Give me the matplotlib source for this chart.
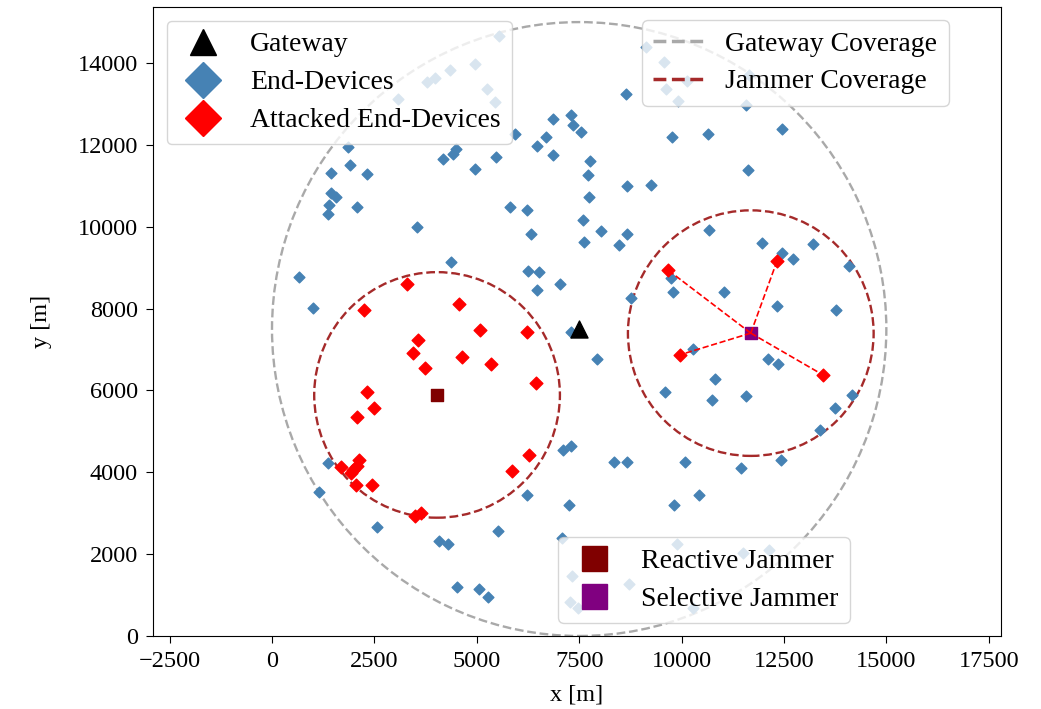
import matplotlib.pyplot as plt
from matplotlib.lines import Line2D
from matplotlib.patches import Circle

plt.rcParams["font.family"] = ["Liberation Serif", "DejaVu Serif"]

# network layout [m]
gateway = (7500, 7500)
gateway_range = 7500
jammer_range = 3000
reactive_jammer = (4030, 5890)
selective_jammer = (11690, 7400)

end_devices_x = [
    5540, 4960, 4350, 3980, 3780, 5250, 5440, 3080, 5930, 6690,
    9130, 9570, 11650, 10130, 9620, 9910, 11570,
    6860, 7300, 7350, 7540, 6470, 6860, 7760, 7710, 7740, 7590, 7620, 8030,
    1860, 1900, 2320, 1440, 1440, 1560, 1390, 1370, 2080, 3540,
    4170, 4420, 4490, 4960, 5470, 5810, 6230, 6320, 4370, 6250, 6520, 6470,
    7030, 660, 1000, 8640, 9770, 10640, 12450, 11620, 8670, 9250, 8670, 8470,
    10670, 11960, 12450, 12720, 13210, 14090, 9740, 9790, 11040, 8760,
    12330, 13770, 7930, 1370, 1150, 7100, 7300, 6230, 7250, 2560, 4080,
    4300, 5520, 7080, 4520, 5050, 5270, 7320, 7280, 7470, 8720, 9890,
    11500, 12130, 10280, 10280, 12110, 12350, 10820, 9590, 10740, 11570,
    14160, 13750, 13380, 8350, 8670, 10080, 11450, 12430, 10420, 9810, 7300,
]
end_devices_y = [
    14660, 13980, 13830, 13630, 13540, 13360, 13050, 13120, 12260, 12190,
    14390, 14020, 13710, 13560, 13360, 13070, 12970,
    12630, 12730, 12480, 12310, 11970, 11750, 11610, 11260, 10730, 10160, 9630, 9900,
    11950, 11510, 11290, 11310, 10820, 10730, 10530, 10310, 10480, 9990,
    11650, 11780, 11900, 11410, 11700, 10480, 10410, 9820, 9140, 8920, 8890, 8450,
    8600, 8770, 8010, 13240, 12190, 12270, 12390, 11390, 10990, 11020, 9820, 9550,
    9920, 9600, 9360, 9210, 9580, 9040, 8750, 8400, 8400, 8260,
    8060, 7960, 6770, 4230, 3520, 4540, 4640, 3440, 3200, 2660, 2320,
    2250, 2570, 2390, 1200, 1150, 950, 1470, 830, 680, 1270, 2250,
    2030, 2100, 680, 7010, 6770, 6650, 6280, 5960, 5770, 5860,
    5890, 5570, 5030, 4250, 4250, 4250, 4100, 4300, 3440, 3200, 7430,
]

# devices inside the reactive jammer's range
reactive_hits_x = [
    3300, 2250, 4570, 5080, 6230, 3560, 3440, 3740, 4640, 5350, 6450, 2320,
    2490, 2080, 6270, 5860, 1690, 2120, 2080, 1980, 1930, 2050, 2440, 3490, 3640,
]
reactive_hits_y = [
    8600, 7960, 8110, 7480, 7430, 7230, 6910, 6550, 6820, 6650, 6180, 5960,
    5570, 5350, 4420, 4030, 4130, 4300, 4150, 4060, 3980, 3690, 3690, 2930, 3010,
]

# devices picked out by the selective jammer
selective_hits_x = [9670, 12330, 9960, 13450]
selective_hits_y = [8940, 9160, 6870, 6380]

fig = plt.figure(figsize=(10.41, 7.09), dpi=100)
ax = fig.add_axes([0.147, 0.103, 0.8146, 0.8872])

ax.add_patch(Circle(gateway, gateway_range, fill=False, ls="--", lw=1.7, color="darkgray"))
for jam in (reactive_jammer, selective_jammer):
    ax.add_patch(Circle(jam, jammer_range, fill=False, ls="--", lw=1.7, color="brown"))

ax.scatter(end_devices_x, end_devices_y, marker="D", s=30, color="steelblue")
ax.scatter(reactive_hits_x, reactive_hits_y, marker="D", s=42, color="red")
ax.scatter(selective_hits_x, selective_hits_y, marker="D", s=42, color="red")

ax.scatter(*reactive_jammer, marker="s", s=70, color="maroon")
ax.scatter(*selective_jammer, marker="s", s=70, color="purple")
for hx, hy in zip(selective_hits_x, selective_hits_y):
    ax.plot([selective_jammer[0], hx], [selective_jammer[1], hy], ls="--", lw=1.2, color="red")

ax.scatter(*gateway, marker="^", s=150, color="black", zorder=3)

ax.set_xlim(-2905, 17800)
ax.set_ylim(0, 15370)
ax.set_xticks(range(-2500, 17501, 2500))
ax.set_yticks(range(0, 14001, 2000))
ax.tick_params(labelsize=17.5, length=5, pad=6)
ax.set_xlabel("x [m]", fontsize=17.5, labelpad=9)
ax.set_ylabel("y [m]", fontsize=17.5, labelpad=18)

leg_kw = dict(fontsize=20, labelspacing=0.45, handlelength=1.8)

nodes = [
    Line2D([], [], ls="", marker="^", ms=19, color="black"),
    Line2D([], [], ls="", marker="D", ms=18, color="steelblue"),
    Line2D([], [], ls="", marker="D", ms=18, color="red"),
]
leg1 = ax.legend(nodes, ["Gateway", "End-Devices", "Attacked End-Devices"],
                 loc="upper left", **leg_kw)
ax.add_artist(leg1)

ranges = [
    Line2D([], [], ls="--", lw=2.5, color="darkgray"),
    Line2D([], [], ls="--", lw=2.5, color="brown"),
]
leg2 = ax.legend(ranges, ["Gateway Coverage", "Jammer Coverage"], loc="upper left",
                 bbox_to_anchor=(0.5767, 0.9793), borderaxespad=0, **leg_kw)
ax.add_artist(leg2)

jammers = [
    Line2D([], [], ls="", marker="s", ms=18, color="maroon"),
    Line2D([], [], ls="", marker="s", ms=18, color="purple"),
]
ax.legend(jammers, ["Reactive Jammer", "Selective Jammer"], loc="lower left",
          bbox_to_anchor=(0.4776, 0.0207), borderaxespad=0, **leg_kw)

fig.savefig("out.png", dpi=100)
